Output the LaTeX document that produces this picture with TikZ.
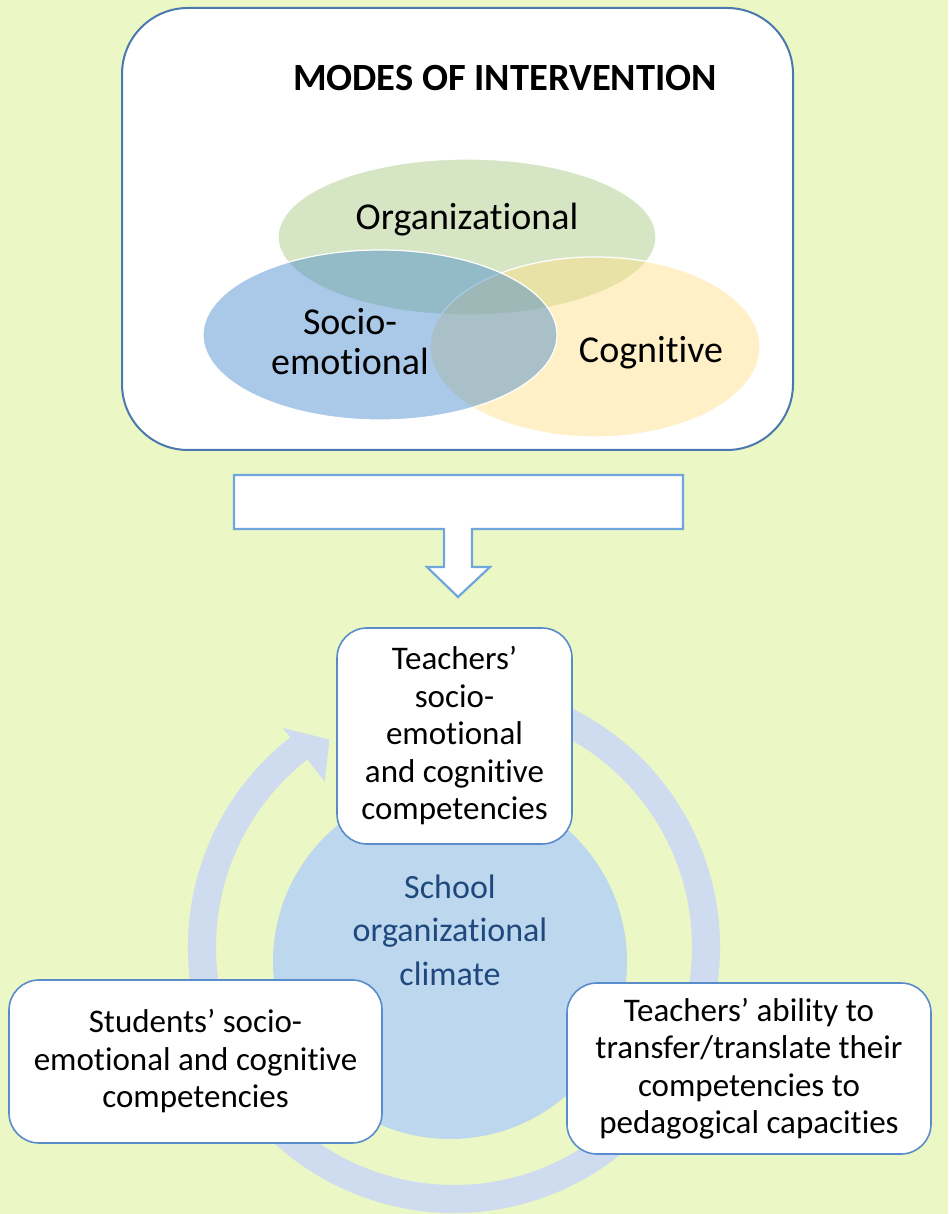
\documentclass[tikz,border=0pt]{standalone}
\usepackage{fontspec}
\setmainfont{Carlito}[Ligatures={NoCommon,NoContextual}, RawFeature={-liga;-clig;-calt;-dlig;-rlig}]
\definecolor{bgcol}{RGB}{235,247,197}
\definecolor{topborder}{RGB}{74,120,175}
\definecolor{boxborder}{RGB}{88,140,203}
\definecolor{arrowborder}{RGB}{112,166,222}
\definecolor{vgreen}{RGB}{162,200,123}
\definecolor{vblue}{RGB}{62,132,203}
\definecolor{vyellow}{RGB}{255,221,130}
\definecolor{ringcol}{RGB}{207,219,239}
\definecolor{circcol}{RGB}{189,215,238}
\definecolor{schooltext}{RGB}{31,73,125}
\tikzset{
  vennell/.style={fill opacity=0.44, draw=white, line width=1.2pt},
  lowbox/.style={draw=boxborder, line width=1.6pt, fill=white, rounded corners=30pt, inner sep=0pt, align=center, font=\fontsize{33}{37.5}\selectfont},
  venntext/.style={font=\fontsize{38}{40}\selectfont, align=center},
}
\begin{document}
\begin{tikzpicture}[x=1pt,y=1pt]
\useasboundingbox (0,0) rectangle (948,1214);
\fill[bgcol] (0,0) rectangle (948,1214);
% top box
\draw[topborder, line width=2pt, fill=white, rounded corners=66pt] (122,764) rectangle (793,1206);
\node[font=\fontsize{38.5}{40}\selectfont\bfseries] (title) at (505,1136) {MODES OF INTERVENTION};
% Venn
\fill[vgreen, vennell] (467,977) ellipse [x radius=189, y radius=78];
\fill[vyellow, vennell] (595,867) ellipse [x radius=165, y radius=90];
\fill[vblue, vennell] (380,879) ellipse [x radius=177, y radius=85];
\node[venntext] (org) at (467,994) {Organizational};
\node[venntext] (socio) at (350,872) {Socio-\\emotional};
\node[venntext] (cog) at (651,861) {Cognitive};
% block arrow
\draw[arrowborder, line width=2.2pt, fill=white, line join=miter]
  (234,739) -- (683,739) -- (683,685) -- (472,685) -- (472,647) -- (490,647)
  -- (458,617) -- (427,647) -- (444,647) -- (444,685) -- (234,685) -- cycle;
% circular arrow
\coordinate (C) at (454,267);
\fill[ringcol] ([shift={(70:266)}]C) arc[start angle=70, end angle=-232, radius=266]
  -- ([shift={(128:278)}]C) -- ([shift={(121:242)}]C) -- ([shift={(128:210)}]C)
  -- ([shift={(128:238)}]C) arc[start angle=-232, end angle=70, radius=238] -- cycle;
% central circle
\fill[circcol] (450,252) circle[radius=177];
\node[font=\fontsize{34}{43.5}\selectfont, text=schooltext, align=center] (school) at (450,284) {School\\organizational\\climate};
% boxes
\node[lowbox, minimum width=235pt, minimum height=216pt] (teach) at (454.5,478)
  {Teachers’\\socio-\\emotional\\and cognitive\\competencies};
\node[lowbox, minimum width=373pt, minimum height=163pt] (stud) at (195.5,152.5)
  {Students’ socio-\\emotional and cognitive\\competencies};
\node[lowbox, minimum width=364pt, minimum height=171pt] (abil) at (749,145.5)
  {Teachers’ ability to\\transfer/translate their\\competencies to\\pedagogical capacities};
\end{tikzpicture}
\end{document}
